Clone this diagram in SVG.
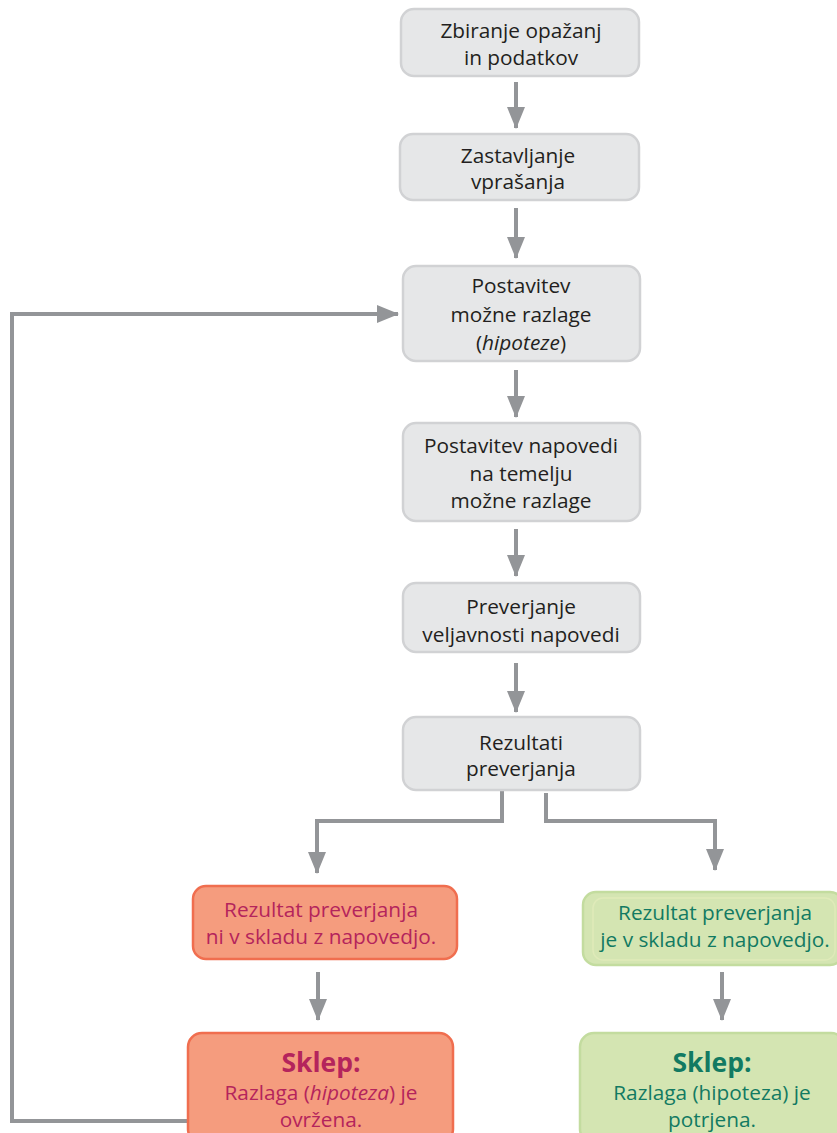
<svg xmlns="http://www.w3.org/2000/svg" width="837" height="1133" viewBox="0 0 837 1133">
  <defs>
    <marker id="arrow" markerUnits="userSpaceOnUse" markerWidth="22" markerHeight="18" viewBox="0 0 22 18" refX="21" refY="9" orient="auto">
      <path d="M0,0 L22,9 L0,18 Z" fill="#939598"/>
    </marker>
    <style>
      .step { fill: #e6e7e8; stroke: #d1d2d4; stroke-width: 2.5; }
      .bad { fill: #f59c7e; stroke: #f06e4f; stroke-width: 2.5; }
      .good { fill: #d4e5b2; stroke: #c3dc9f; stroke-width: 2.5; }
      .good-inner { fill: none; stroke: #dfeab9; stroke-width: 1.5; }
      text { font-family: "Open Sans", "Liberation Sans", sans-serif; font-size: 20.8px; text-anchor: middle; }
      .dark { fill: #231f20; }
      .red { fill: #b4245c; }
      .green { fill: #127a62; }
      .head { font-size: 26.5px; font-weight: bold; }
      .link { fill: none; stroke: #939598; stroke-width: 4; marker-end: url(#arrow); }
    </style>
  </defs>

  <g id="connectors">
    <line class="link" x1="516" y1="82" x2="516" y2="128"/>
    <line class="link" x1="516" y1="208" x2="516" y2="258"/>
    <line class="link" x1="516" y1="370" x2="516" y2="417"/>
    <line class="link" x1="516" y1="529" x2="516" y2="576"/>
    <line class="link" x1="516" y1="663" x2="516" y2="712"/>
    <polyline class="link" points="502,790 502,821 317,821 317,873"/>
    <polyline class="link" points="546,793 546,821 715,821 715,870"/>
    <line class="link" x1="318" y1="972" x2="318" y2="1020"/>
    <line class="link" x1="722" y1="972" x2="722" y2="1020"/>
    <polyline class="link" points="188,1121 12,1121 12,314 398,314"/>
  </g>

  <g id="n1">
    <rect class="step" x="401" y="9" width="238" height="67" rx="13"/>
    <text class="dark" x="521" y="38">Zbiranje opažanj</text>
    <text class="dark" x="521" y="65">in podatkov</text>
  </g>

  <g id="n2">
    <rect class="step" x="400" y="134" width="239" height="66" rx="13"/>
    <text class="dark" x="518" y="163">Zastavljanje</text>
    <text class="dark" x="518" y="189">vprašanja</text>
  </g>

  <g id="n3">
    <rect class="step" x="403" y="266" width="237" height="95" rx="13"/>
    <text class="dark" x="521" y="293">Postavitev</text>
    <text class="dark" x="521" y="322">možne razlage</text>
    <text class="dark" x="521" y="350">(<tspan font-style="italic">hipoteze</tspan>)</text>
  </g>

  <g id="n4">
    <rect class="step" x="403" y="423" width="237" height="98" rx="13"/>
    <text class="dark" x="521" y="453">Postavitev napovedi</text>
    <text class="dark" x="521" y="481">na temelju</text>
    <text class="dark" x="521" y="508">možne razlage</text>
  </g>

  <g id="n5">
    <rect class="step" x="403" y="583" width="237" height="69" rx="13"/>
    <text class="dark" x="521" y="614">Preverjanje</text>
    <text class="dark" x="521" y="642">veljavnosti napovedi</text>
  </g>

  <g id="n6">
    <rect class="step" x="403" y="717" width="237" height="73" rx="13"/>
    <text class="dark" x="521" y="750">Rezultati</text>
    <text class="dark" x="521" y="776">preverjanja</text>
  </g>

  <g id="n7">
    <rect class="bad" x="193" y="886" width="264" height="73" rx="13"/>
    <text class="red" x="321" y="917">Rezultat preverjanja</text>
    <text class="red" x="321" y="944">ni v skladu z napovedjo.</text>
  </g>

  <g id="n8">
    <rect class="good" x="583" y="892" width="260" height="73" rx="13"/>
    <rect class="good-inner" x="593" y="898" width="242" height="62" rx="10"/>
    <text class="green" x="715" y="920">Rezultat preverjanja</text>
    <text class="green" x="715" y="947">je v skladu z napovedjo.</text>
  </g>

  <g id="n9">
    <rect class="bad" x="188" y="1033" width="265" height="110" rx="14"/>
    <text class="red head" x="321" y="1072">Sklep:</text>
    <text class="red" x="321" y="1100">Razlaga (<tspan font-style="italic">hipoteza</tspan>) je</text>
    <text class="red" x="321" y="1127">ovržena.</text>
  </g>

  <g id="n10">
    <rect class="good" x="580" y="1033" width="265" height="110" rx="14"/>
    <text class="green head" x="712" y="1072">Sklep:</text>
    <text class="green" x="712" y="1100">Razlaga (hipoteza) je</text>
    <text class="green" x="712" y="1127">potrjena.</text>
  </g>
</svg>
